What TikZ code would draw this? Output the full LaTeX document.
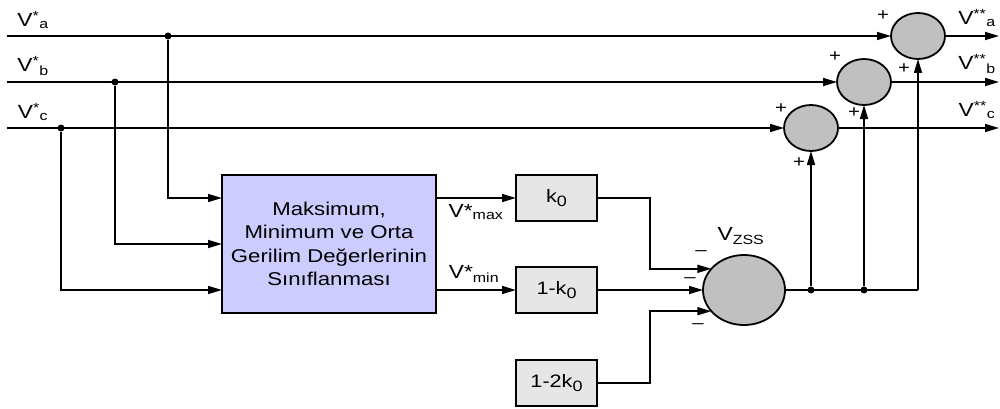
\documentclass[tikz,border=0pt]{standalone}
\usepackage{fontspec}
\setmainfont{Liberation Sans}[FakeStretch=1.2]
\usetikzlibrary{shapes.geometric,arrows.meta}

\definecolor{sumgray}{RGB}{192,192,192}
\definecolor{gaingray}{RGB}{230,230,230}
\definecolor{clfblue}{RGB}{204,204,255}

\newcommand{\gsub}[1]{\raisebox{-3.5pt}{\fontsize{15}{15}\selectfont #1}}

\tikzset{
  sigline/.style={line width=1.6pt},
  flow/.style={sigline,-{Triangle[length=14pt,width=8pt]}},
  sumnode/.style={ellipse,draw,line width=1.8pt,fill=sumgray,inner sep=0pt,outer sep=0pt,
    minimum width=54pt,minimum height=46pt},
  gainbox/.style={rectangle,draw,line width=1.2pt,fill=gaingray,outer sep=0pt,
    minimum width=81pt,minimum height=46pt,font=\fontsize{18}{22}\selectfont},
  junction/.style={circle,fill,inner sep=0pt,minimum size=7pt},
  lbl/.style={inner sep=0pt,font=\fontsize{19}{23}\selectfont},
  sgn/.style={inner sep=0pt,font=\fontsize{17}{19}\selectfont}
}

\begin{document}
\begin{tikzpicture}[x=1pt,y=-1pt]
  \useasboundingbox (0,0) rectangle (1000,409);

  %% input lines
  \coordinate (inA) at (7,36);
  \coordinate (inB) at (7,82);
  \coordinate (inC) at (7,128);
  \node[lbl] (lblA) at (33,20) {V\textsuperscript{*}\textsubscript{a}};
  \node[lbl] (lblB) at (33,66) {V\textsuperscript{*}\textsubscript{b}};
  \node[lbl] (lblC) at (33,112) {V\textsuperscript{*}\textsubscript{c}};

  % summing points
  \node[sumnode] (sa) at (918,36) {};
  \node[sumnode] (sb) at (864,82) {};
  \node[sumnode] (sc) at (811,128) {};

  \draw[flow] (inA) -- (sa.west);
  \draw[flow] (inB) -- (sb.west);
  \draw[flow] (inC) -- (sc.west);

  % outputs
  \coordinate (outA) at (999,36);
  \coordinate (outB) at (999,82);
  \coordinate (outC) at (999,128);
  \draw[flow] (sa.east) -- (outA);
  \draw[flow] (sb.east) -- (outB);
  \draw[flow] (sc.east) -- (outC);
  \node[lbl] (lblOA) at (977,18) {V\textsuperscript{**}\textsubscript{a}};
  \node[lbl] (lblOB) at (977,64) {V\textsuperscript{**}\textsubscript{b}};
  \node[lbl] (lblOC) at (977,110) {V\textsuperscript{**}\textsubscript{c}};

  %% classification block
  \node[draw,line width=1.2pt,fill=clfblue,outer sep=0pt,minimum width=214pt,minimum height=138pt,
    align=center,font=\fontsize{18.5}{23.3}\selectfont] (clf) at (329,244)
    {Maksimum,\\Minimum ve Orta\\Gerilim Değerlerinin\\Sınıflanması};

  \node[junction] (ja) at (168,36) {};
  \node[junction] (jb) at (115,82) {};
  \node[junction] (jc) at (61,128) {};
  \draw[flow] (ja) |- ([yshift=46pt]clf.west);
  \draw[flow] (jb) |- (clf.west);
  \draw[flow] (jc) |- ([yshift=-46pt]clf.west);

  %% gains
  \node[gainbox] (k0) at (556.5,198) {k\gsub{0}};
  \node[gainbox] (k1) at (556.5,290) {1-k\gsub{0}};
  \node[gainbox] (k2) at (556.5,383) {1-2k\gsub{0}};

  \draw[flow] ([yshift=46pt]clf.east) -- (k0.west);
  \draw[flow] ([yshift=-46pt]clf.east) -- (k1.west);
  \node[lbl] (lmax) at (476,212) {V*\textsubscript{max}};
  \node[lbl] (lmin) at (474,274) {V*\textsubscript{min}};

  %% zero sequence
  \node[sumnode,minimum width=82pt,minimum height=70pt] (vzss) at (744,290) {};
  \node[lbl] (lzss) at (741,236) {V\textsubscript{ZSS}};

  \draw[flow] (k0.east) -- ++(53,0) |- (vzss.147);
  \draw[flow] (k1.east) -- (vzss.west);
  \draw[flow] (k2.east) -- ++(53,0) |- (vzss.213);
  \node[sgn] (m1) at (701,253) {–};
  \node[sgn] (m2) at (690,280) {–};
  \node[sgn] (m3) at (698,326) {–};

  \node[junction] (jz1) at (811,290) {};
  \node[junction] (jz2) at (864,290) {};
  \coordinate (zend) at (918,290);
  \draw[sigline] (vzss.east) -- (zend);
  \draw[flow] (jz1) -- (sc.south);
  \draw[flow] (jz2) -- (sb.south);
  \draw[flow] (zend) -- (sa.south);

  % signs
  \node[sgn] (pa1) at (883,16) {+};
  \node[sgn] (pa2) at (904,69) {+};
  \node[sgn] (pb1) at (835,57) {+};
  \node[sgn] (pb2) at (854,113) {+};
  \node[sgn] (pc1) at (781,109) {+};
  \node[sgn] (pc2) at (799,163) {+};
\end{tikzpicture}
\end{document}
